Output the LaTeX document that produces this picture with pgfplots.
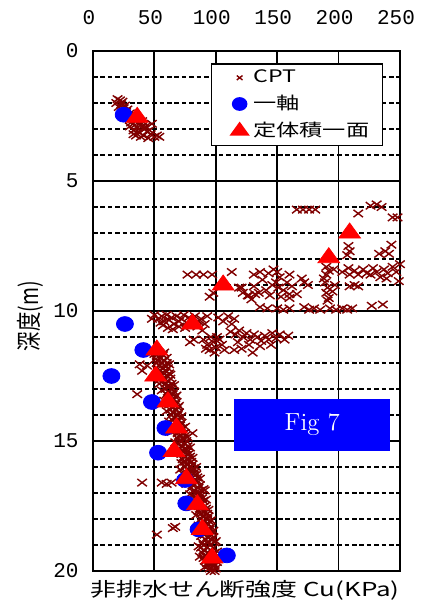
\documentclass[border=0pt]{standalone}
\usepackage{fontspec}
\usepackage{pgfplots}
\pgfplotsset{compat=1.18}
\newfontfamily\jpfont[FakeStretch=1.35]{Noto Sans CJK JP}
\newfontfamily\jpplain{Noto Sans CJK JP}
\newfontfamily\monofont{Liberation Mono}
\definecolor{cptred}{RGB}{128,0,0}
\definecolor{cublue}{RGB}{0,0,255}
\definecolor{trired}{RGB}{255,0,0}

\pgfplotstableread{
x y
20 1.85
22 1.9
24 1.95
19 2.0
23 2.05
26 2.1
21 2.15
25 2.2
28 2.25
24 2.3
27 2.35
30 2.4
29 2.5
32 2.6
35 2.7
31 2.75
38 2.8
34 2.85
40 2.9
36 2.95
42 3.0
33 3.05
44 3.1
38 3.15
47 3.2
35 3.25
41 3.25
50 3.3
45 3.35
39 3.3
52 3.25
37 3.1
43 2.9
46 3.05
30 2.9
33 3.2
48 2.8
36 2.6
40 2.7
30 2.6
54 3.3
166 6.1
171 6.1
176 6.1
181 6.1
216 6.25
226 5.95
231 5.9
235 6.0
244 6.4
248 6.4
252 6.4
208 7.5
209 7.7
207 7.85
233 7.8
238 7.7
243 7.45
241 7.8
190 8.3
192 8.45
190 8.6
196 8.4
203 8.5
208 8.35
213 8.45
216 8.6
220 8.4
223 8.55
228 8.35
231 8.5
234 8.7
237 8.4
240 8.55
244 8.3
247 8.5
250 8.2
226 8.6
239 8.75
249 8.85
209 8.6
189 8.9
191 9.1
190 9.3
192 9.5
191 9.6
188 8.75
195 9.25
197 9.0
209 9.05
213 9.0
216 9.05
227 9.8
236 9.75
136 9.85
142 9.9
150 9.9
155 9.95
160 9.9
172 9.85
176 9.95
180 9.9
185 9.95
193 9.9
198 9.95
203 9.9
207 9.95
211 9.9
131 8.6
138 8.8
143 8.55
147 8.4
150 8.5
152 8.7
149 8.9
151 9.1
146 9.0
155 9.2
141 9.2
158 8.9
162 9.05
135 9.3
144 9.4
153 9.45
160 9.35
127 9.4
122 9.3
129 9.55
170 8.75
175 9.0
166 9.35
119 9.1
131 9.05
136 8.5
160 8.6
172 8.9
160 9.5
77 8.6
84 8.6
90 8.6
97 8.6
113 8.5
95 9.45
98 9.3
121 9.1
126 9.4
132 9.35
50 10.15
53 10.3
56 10.2
58 10.4
60 10.15
62 10.35
64 10.25
66 10.5
68 10.2
70 10.4
72 10.3
74 10.15
76 10.45
78 10.25
80 10.35
83 10.2
86 10.4
88 10.3
91 10.5
93 10.2
57 10.55
61 10.65
65 10.7
70 10.6
85 10.6
89 10.75
55 10.45
75 10.65
48 10.3
102 10.25
106 10.4
110 10.2
113 10.5
115 10.3
79 11.2
82 11.1
90 11.1
93 11.3
96 11.0
98 11.2
100 11.4
103 11.1
105 11.3
95 11.5
99 11.6
92 11.45
101 11.0
107 11.5
112 10.8
116 10.9
119 10.75
122 11.0
125 10.85
128 11.1
131 10.9
134 11.0
137 11.15
140 10.95
143 11.1
146 10.85
149 11.05
152 10.9
156 11.1
159 10.95
118 11.2
127 11.3
136 11.35
115 11.5
121 11.45
130 11.6
145 11.3
54 11.6
58 11.6
52 11.7
57 11.7
55 11.8
60 11.8
53 11.9
58 11.9
56 12.0
60 12.0
52 12.0
38 12.05
44 12.1
54 12.1
59 12.1
57 12.2
61 12.2
55 12.3
59 12.3
40 12.3
58 12.4
62 12.4
56 12.5
60 12.5
58 12.6
63 12.6
57 12.7
61 12.7
59 12.8
64 12.8
54 12.8
60 12.9
63 12.9
59 13.0
64 13.0
61 13.1
66 13.1
60 13.2
65 13.2
36 13.2
62 13.3
67 13.3
61 13.4
66 13.4
63 13.5
68 13.5
62 13.6
67 13.6
64 13.7
69 13.7
63 13.8
68 13.8
65 13.9
70 13.9
64 14.0
69 14.0
66 14.1
71 14.1
65 14.2
70 14.2
67 14.3
72 14.3
66 14.4
71 14.4
68 14.5
73 14.5
67 14.6
72 14.6
81 14.7
69 14.7
74 14.7
70 14.8
75 14.8
69 14.9
74 14.9
71 15.0
76 15.0
70 15.1
75 15.1
72 15.2
77 15.2
71 15.3
76 15.3
73 15.4
77 15.4
72 15.5
78 15.5
74 15.6
79 15.6
73 15.7
78 15.7
75 15.8
80 15.8
76 15.9
81 15.9
75 16.0
80 16.0
84 16.0
77 16.1
82 16.1
71 16.1
76 16.2
83 16.2
78 16.3
84 16.3
79 16.4
85 16.4
78 16.5
84 16.5
80 16.6
85 16.6
40 16.6
56 16.6
60 16.65
64 16.6
81 16.7
87 16.7
80 16.8
86 16.8
82 16.9
88 16.9
91 16.9
83 17.0
87 17.0
82 17.1
88 17.1
84 17.2
89 17.2
85 17.3
90 17.3
84 17.4
89 17.4
86 17.5
91 17.5
87 17.6
92 17.6
86 17.7
91 17.7
88 17.8
93 17.8
89 17.9
94 17.9
88 18.0
93 18.0
90 18.1
95 18.1
89 18.2
94 18.2
91 18.3
96 18.3
67 18.3
65 18.35
90 18.4
95 18.4
92 18.5
97 18.5
91 18.6
96 18.6
52 18.6
93 18.7
98 18.7
92 18.8
97 18.8
89 18.9
94 18.9
99 18.9
90 19.0
95 19.0
88 19.1
93 19.1
98 19.1
90 19.2
96 19.2
89 19.3
94 19.3
99 19.3
91 19.4
97 19.4
90 19.5
95 19.5
100 19.5
92 19.6
97 19.6
93 19.7
98 19.7
94 19.8
99 19.8
95 19.9
100 19.9
96 20.0
99 20.0
50 11.65
51 11.85
62 12.05
52 12.25
63 12.45
54 12.65
66 12.85
56 13.05
68 13.25
58 13.45
70 13.65
60 13.85
72 14.05
62 14.25
75 14.45
64 14.65
77 14.85
67 15.05
79 15.25
69 15.45
81 15.65
72 15.85
82 16.05
73 16.25
87 16.45
76 16.65
90 16.85
79 17.05
92 17.25
81 17.45
94 17.65
84 17.85
96 18.05
86 18.25
98 18.45
88 18.65
100 18.85
86 19.05
101 19.25
87 19.45
101 19.65
91 19.85
17 20.05
25 20.05
33 20.05
41 20.05
115 20.05
121 20.05
128 20.05
135 20.05
160 20.05
}\cptdata

\pgfplotstableread{
x y
25 2.45
26 10.5
41 11.5
15 12.5
48 13.5
59 14.5
53 15.45
75 16.5
76 17.4
86 18.4
109 19.4
}\cudata

\pgfplotstableread{
x y
36 2.55
209 7.0
192 7.95
106 9.0
81 10.5
52 11.5
51 12.5
61 13.5
68 14.5
66 15.4
76 16.45
85 17.45
89 18.4
97 19.5
}\tridata

\begin{document}
\begin{tikzpicture}
\fill[white] (-46.5pt,-18pt) rectangle (168pt,285.5pt);
\begin{axis}[
  at={(0pt,0pt)}, anchor=south west,
  scale only axis, width=153.5pt, height=260pt,
  xmin=0, xmax=250, ymin=0, ymax=20, y dir=reverse,
  xtick={0,50,...,250}, ytick={0,5,...,20},
  minor ytick={1,2,3,4,6,7,8,9,11,12,13,14,16,17,18,19},
  xticklabel pos=top,
  axis line style={line width=1pt},
  major tick length=0pt, minor tick length=0pt,
  xmajorgrids, ymajorgrids, yminorgrids,
  major grid style={black, line width=0.9pt},
  minor grid style={black, line width=0.75pt, dash pattern=on 2.3pt off 1.4pt},
  /pgf/number format/assume math mode=true,
  tick label style={font=\monofont\fontsize{10.5}{12}\selectfont, inner sep=0pt},
  xticklabel style={anchor=center, xshift=-2pt},
  xticklabel shift=16.5pt,
  yticklabel style={anchor=east},
  yticklabel shift=7pt,
  xlabel={非排水せん断強度 Cu(KPa)},
  xlabel style={font=\jpfont\fontsize{9.6}{11}\selectfont, at={(axis description cs:0.495,-0.0365)}, anchor=center},
  ylabel={\scalebox{1}[1.3]{\jpplain\fontsize{9.7}{11}\selectfont 深度(m)}},
  ylabel style={at={(axis description cs:-0.205,0.49)}, anchor=center},
  legend style={at={(0.945,0.977)}, anchor=north east, draw=black, line width=0.8pt,
    font=\jpfont\fontsize{8.6}{10}\selectfont, inner xsep=0pt, inner ysep=3pt,
    row sep=4.75pt, column sep=2.5pt, nodes={inner sep=0pt}},
  legend cell align=left,
]
\addplot[only marks, mark=x, mark size=2.6pt, color=cptred, mark options={line width=0.7pt, xscale=1.3},
  legend image code/.code={\path[draw=none,fill=none] (-14pt,-4pt) rectangle (4pt,4pt); \draw[/tikz/every mark/.append style={scale=0.6}] plot coordinates {(0pt,0pt)};}] table[x=x,y=y] {\cptdata};
\addlegendentry{\makebox[64.5pt][l]{CPT}}
\addplot[only marks, mark=*, mark size=3.7pt, color=cublue, mark options={xscale=1.15},
  legend image code/.code={\path[draw=none,fill=none] (-14pt,-4pt) rectangle (4pt,4pt); \draw[/tikz/every mark/.append style={scale=0.82}] plot coordinates {(0pt,0pt)};}] table[x=x,y=y] {\cudata};
\addlegendentry{\makebox[64.5pt][l]{一軸}}
\addplot[only marks, mark=triangle*, mark size=5pt, color=trired, mark options={xscale=1.25},
  legend image code/.code={\path[draw=none,fill=none] (-14pt,-4pt) rectangle (4pt,4pt); \draw[/tikz/every mark/.append style={scale=0.8}] plot coordinates {(0pt,0pt)};}] table[x=x,y=y] {\tridata};
\addlegendentry{\makebox[64.5pt][l]{定体積一面}}
\fill[cublue] (axis cs:115,13.38) rectangle (axis cs:242,15.38);
\node[white, font=\fontsize{12.4}{14}\selectfont] at (axis cs:178.5,14.38) {Fig 7};
\end{axis}
\pgfresetboundingbox
\path (-46.5pt,-18pt) rectangle (168pt,285.5pt);
\end{tikzpicture}
\end{document}
